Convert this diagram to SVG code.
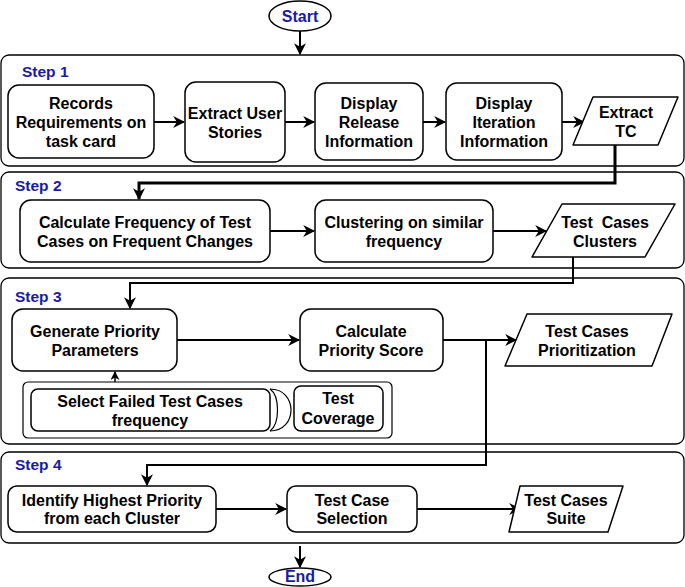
<svg xmlns="http://www.w3.org/2000/svg" width="685" height="587" viewBox="0 0 685 587">
<defs>
<style>
.box{fill:#fff;stroke:#000;stroke-width:1.5}
.cont{fill:#fff;stroke:#000;stroke-width:1.3}
.t{font-family:"Liberation Sans",Arial,sans-serif;font-weight:bold;font-size:16px;fill:#000;text-anchor:middle}
.s{font-family:"Liberation Sans",Arial,sans-serif;font-weight:bold;font-size:15.5px;fill:#1a1aa8}
.b{font-family:"Liberation Sans",Arial,sans-serif;font-weight:bold;font-size:16px;fill:#1a1aa8;text-anchor:middle}
.c{fill:none;stroke:#000;stroke-width:2}
</style>
<marker id="ah" viewBox="0 0 10 10" refX="9" refY="5" markerWidth="9" markerHeight="9" orient="auto" markerUnits="userSpaceOnUse">
<path d="M0,0 L10,5 L0,10 L3,5 Z" fill="#000"/>
</marker>
<marker id="ah2" viewBox="0 0 10 10" refX="9" refY="5" markerWidth="12" markerHeight="12" orient="auto" markerUnits="userSpaceOnUse">
<path d="M0,0 L10,5 L0,10 L3,5 Z" fill="#000"/>
</marker>
</defs>

<g id="step1">
<rect class="cont" x="1" y="55" width="683" height="111" rx="8"/>
<text class="s" x="22" y="77">Step 1</text>
</g>
<g id="step2">
<rect class="cont" x="1" y="172" width="683" height="96" rx="8"/>
<text class="s" x="15" y="191">Step 2</text>
</g>
<g id="step3">
<rect class="cont" x="1" y="278" width="683" height="166" rx="8"/>
<text class="s" x="15" y="302">Step 3</text>
</g>
<g id="step4">
<rect class="cont" x="1" y="452" width="683" height="91" rx="8"/>
<text class="s" x="15" y="470">Step 4</text>
</g>

<g id="connectors">
<line class="c" x1="300" y1="31" x2="300" y2="54" marker-end="url(#ah2)"/>
<line class="c" x1="154" y1="122" x2="184" y2="122" marker-end="url(#ah2)"/>
<line class="c" x1="285" y1="122" x2="314" y2="122" marker-end="url(#ah2)"/>
<line class="c" x1="423" y1="122" x2="445" y2="122" marker-end="url(#ah2)"/>
<line class="c" x1="562" y1="122" x2="584" y2="122" marker-end="url(#ah2)"/>
<polyline class="c" style="stroke-width:3" points="615,145 615,183 139,183 139,199" marker-end="url(#ah2)"/>
<line class="c" x1="270" y1="231" x2="314" y2="231" marker-end="url(#ah2)"/>
<line class="c" x1="493" y1="231" x2="546" y2="231" marker-end="url(#ah2)"/>
<polyline class="c" points="573,257 573,283 130,283 130,308" marker-end="url(#ah2)"/>
<line class="c" x1="177" y1="340" x2="299" y2="340" marker-end="url(#ah2)"/>
<line class="c" x1="443" y1="340" x2="516" y2="340" marker-end="url(#ah2)"/>
<polyline class="c" points="486,340 486,465 147,465 147,485" marker-end="url(#ah2)"/>
<line class="c" style="stroke-width:1.5" x1="115" y1="382" x2="115" y2="372" marker-end="url(#ah)"/>
<line class="c" x1="216" y1="509" x2="286" y2="509" marker-end="url(#ah2)"/>
<line class="c" x1="417" y1="509" x2="520" y2="509" marker-end="url(#ah2)"/>
<line class="c" x1="300" y1="546" x2="300" y2="567" marker-end="url(#ah2)"/>
</g>

<g id="start">
<ellipse class="box" cx="300" cy="16" rx="31" ry="15"/>
<text class="b" x="300" y="22">Start</text>
</g>

<g id="records">
<rect class="box" x="8" y="85" width="146" height="73" rx="11"/>
<text class="t" x="81" y="109">Records</text>
<text class="t" x="81" y="128">Requirements on</text>
<text class="t" x="81" y="147">task card</text>
</g>
<g id="extract-user">
<rect class="box" x="185" y="82" width="100" height="80" rx="11"/>
<text class="t" x="235" y="119">Extract User</text>
<text class="t" x="235" y="138">Stories</text>
</g>
<g id="display-release">
<rect class="box" x="315" y="83" width="108" height="77" rx="11"/>
<text class="t" x="369" y="109">Display</text>
<text class="t" x="369" y="128">Release</text>
<text class="t" x="369" y="147">Information</text>
</g>
<g id="display-iteration">
<rect class="box" x="446" y="83" width="116" height="77" rx="11"/>
<text class="t" x="504" y="109">Display</text>
<text class="t" x="504" y="128">Iteration</text>
<text class="t" x="504" y="147">Information</text>
</g>
<g id="extract-tc">
<path class="box" d="M593,97 L678,97 L658,145 L573,145 Z" stroke-linejoin="round"/>
<text class="t" x="626" y="118">Extract</text>
<text class="t" x="626" y="137">TC</text>
</g>

<g id="calc-freq">
<rect class="box" x="20" y="200" width="250" height="62" rx="11"/>
<text class="t" x="145" y="228">Calculate Frequency of Test</text>
<text class="t" x="145" y="247">Cases on Frequent Changes</text>
</g>
<g id="clustering">
<rect class="box" x="315" y="200" width="178" height="62" rx="11"/>
<text class="t" x="404" y="228">Clustering on similar</text>
<text class="t" x="404" y="247">frequency</text>
</g>
<g id="tc-clusters">
<path class="box" d="M562,204 L675,204 L645,257 L532,257 Z" stroke-linejoin="round"/>
<text class="t" x="605" y="228" xml:space="preserve">Test  Cases</text>
<text class="t" x="605" y="247">Clusters</text>
</g>

<g id="gen-priority">
<rect class="box" x="12" y="309" width="165" height="62" rx="11"/>
<text class="t" x="95" y="337">Generate Priority</text>
<text class="t" x="95" y="356">Parameters</text>
</g>
<g id="calc-priority">
<rect class="box" x="300" y="309" width="143" height="62" rx="11"/>
<text class="t" x="371" y="337">Calculate</text>
<text class="t" x="371" y="356">Priority Score</text>
</g>
<g id="tc-prioritization">
<path class="box" d="M527,314 L672,314 L652,366 L505,366 Z" stroke-linejoin="round"/>
<text class="t" x="587" y="337">Test Cases</text>
<text class="t" x="587" y="356">Prioritization</text>
</g>
<g id="params-group">
<rect class="box" style="stroke-width:1.2" x="23" y="382" width="369" height="56" rx="5"/>
</g>
<g id="select-failed">
<rect class="box" x="31" y="389" width="239" height="42" rx="7"/>
<text class="t" x="150" y="407">Select Failed Test Cases</text>
<text class="t" x="150" y="426">frequency</text>
</g>
<g id="or-join">
<path class="box" style="fill:none;stroke-width:1.2" d="M270,389 C298,389 298,431 270,431"/>
<path class="box" style="fill:none;stroke-width:1.2" d="M270,389 C280,396 280,424 270,431"/>
</g>
<g id="test-coverage">
<rect class="box" x="294" y="386" width="89" height="45" rx="7"/>
<text class="t" x="338" y="404">Test</text>
<text class="t" x="338" y="424">Coverage</text>
</g>

<g id="identify">
<rect class="box" x="8" y="486" width="208" height="46" rx="9"/>
<text class="t" x="112" y="506">Identify Highest Priority</text>
<text class="t" x="112" y="524">from each Cluster</text>
</g>
<g id="tc-selection">
<rect class="box" x="287" y="486" width="130" height="46" rx="9"/>
<text class="t" x="352" y="506">Test Case</text>
<text class="t" x="352" y="524">Selection</text>
</g>
<g id="tc-suite">
<path class="box" d="M520,486 L623,486 L608,532 L509,532 Z" stroke-linejoin="round"/>
<text class="t" x="566" y="506">Test Cases</text>
<text class="t" x="566" y="524">Suite</text>
</g>

<g id="end">
<ellipse class="box" cx="300" cy="577" rx="31" ry="9"/>
<text class="b" x="300" y="582">End</text>
</g>
</svg>
